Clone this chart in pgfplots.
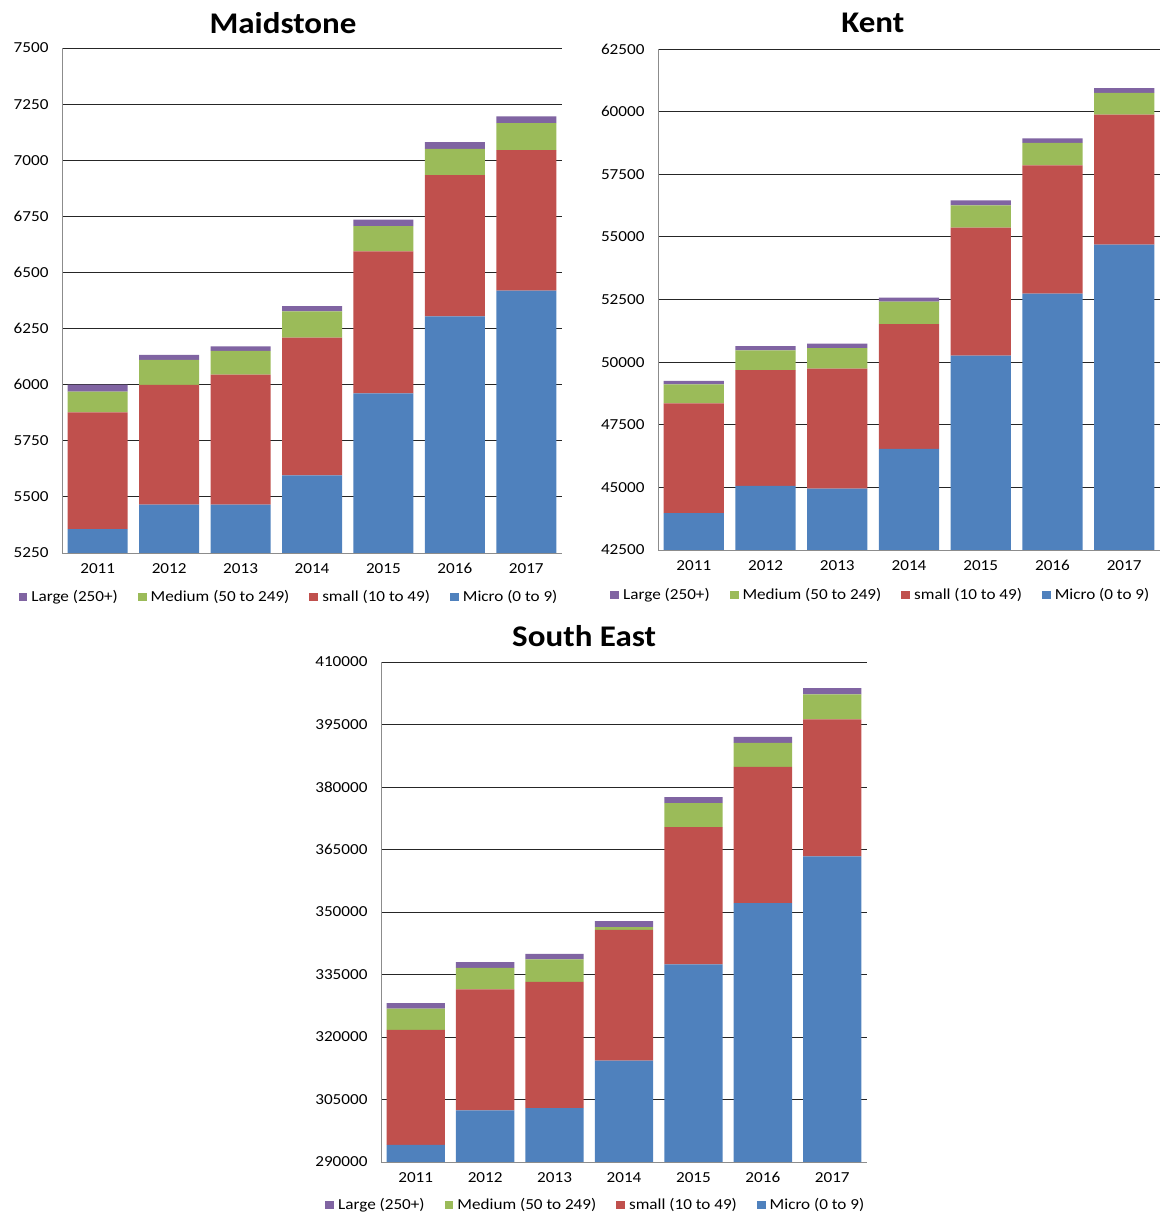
\documentclass[border=0pt]{standalone}
\usepackage{pgfplots}
\pgfplotsset{compat=1.18}
\usepackage{pgfplotstable}
\usepackage{fontspec}
\setmainfont{Carlito}[FakeStretch=1.12]
\newfontfamily\titlefont{Carlito}[FakeStretch=1.1]
\definecolor{cmicro}{HTML}{4F81BD}
\definecolor{csmall}{HTML}{C0504D}
\definecolor{cmedium}{HTML}{9BBB59}
\definecolor{clarge}{HTML}{8064A2}
\definecolor{axisgray}{HTML}{8C8C8C}

\pgfplotstableread{
x micro small medium large
0 5356 520 93 31
1 5465 534 111 23
2 5465 580 106 19
3 5596 613 117 24
4 5961 633 112 29
5 6304 630 116 30
6 6419 626 120 30
}\maid

\pgfplotstableread{
x micro small medium large
0 43970 4380 759 142
1 45061 4617 790 174
2 44951 4790 822 174
3 46532 4980 901 158
4 50263 5107 885 205
5 52729 5123 901 174
6 54690 5186 869 190
}\kent

\pgfplotstableread{
x micro small medium large
0 294100 27600 5100 1300
1 302400 29000 5200 1350
2 302900 30350 5350 1350
3 314350 31350 650 1450
4 337450 32900 5750 1450
5 352100 32700 5800 1450
6 363350 32900 6000 1450
}\seast

\pgfplotsset{
  sme/.style={
    scale only axis,
    ybar stacked, bar width=0.84,
    xmin=-0.5, xmax=6.5,
    xtick={0,...,6}, xticklabels={2011,2012,2013,2014,2015,2016,2017},
    axis x line*=bottom, axis y line*=left,
    axis line style={draw=axisgray, line width=0.9pt, -},
    ymajorgrids, grid style={black!85, line width=0.8pt},
    major tick length=0pt,
    tick label style={font=\fontsize{15.3}{17}\selectfont},
    yticklabel style={xshift=-10pt},
    xticklabel style={yshift=-7pt},
    scaled y ticks=false,
    /pgf/number format/.cd, fixed, 1000 sep={}, assume math mode=true, /pgfplots/.cd,
    reverse legend,
    legend columns=4,
    legend style={draw=none, fill=none, anchor=center,
      font=\fontsize{15.3}{17}\selectfont,
      /tikz/every odd column/.append style={column sep=2pt},
      /tikz/every even column/.append style={column sep=18pt}},
    legend image code/.code={\fill[##1] (0pt,-4.3pt) rectangle (8.8pt,4.3pt);},
    title style={font=\titlefont\bfseries\fontsize{30}{33}\selectfont, anchor=center},
  }
}

\begin{document}
\begin{tikzpicture}
\useasboundingbox (0pt,0pt) rectangle (1163pt,1214pt);

% Maidstone
\begin{axis}[sme, at={(62pt,661pt)}, anchor=south west, width=500pt, height=505pt,
  ymin=5250, ymax=7500, ytick={5250,5500,...,7500},
  title={Maidstone}, title style={at={(0.442,1.037)}},
  legend style={at={(0.454,-0.087)}}]
\addplot[fill=cmicro, draw=none] table[x=x,y=micro]{\maid};
\addplot[fill=csmall, draw=none] table[x=x,y=small]{\maid};
\addplot[fill=cmedium, draw=none] table[x=x,y=medium]{\maid};
\addplot[fill=clarge, draw=none] table[x=x,y=large]{\maid};
\legend{Micro (0 to 9),small (10 to 49),Medium (50 to 249),Large (250+)}
\end{axis}

% Kent
\begin{axis}[sme, at={(658pt,664pt)}, anchor=south west, width=502pt, height=501pt,
  ymin=42500, ymax=62500, ytick={42500,45000,...,62500},
  title={Kent}, title style={at={(0.428,1.04)}},
  legend style={at={(0.444,-0.09)}}]
\addplot[fill=cmicro, draw=none] table[x=x,y=micro]{\kent};
\addplot[fill=csmall, draw=none] table[x=x,y=small]{\kent};
\addplot[fill=cmedium, draw=none] table[x=x,y=medium]{\kent};
\addplot[fill=clarge, draw=none] table[x=x,y=large]{\kent};
\legend{Micro (0 to 9),small (10 to 49),Medium (50 to 249),Large (250+)}
\end{axis}

% South East
\begin{axis}[sme, at={(381pt,52pt)}, anchor=south west, width=486pt, height=500pt,
  ymin=290000, ymax=410000, ytick={290000,305000,...,410000},
  title={South East}, title style={at={(0.418,1.04)}},
  legend style={at={(0.442,-0.086)}}]
\addplot[fill=cmicro, draw=none] table[x=x,y=micro]{\seast};
\addplot[fill=csmall, draw=none] table[x=x,y=small]{\seast};
\addplot[fill=cmedium, draw=none] table[x=x,y=medium]{\seast};
\addplot[fill=clarge, draw=none] table[x=x,y=large]{\seast};
\legend{Micro (0 to 9),small (10 to 49),Medium (50 to 249),Large (250+)}
\end{axis}
\end{tikzpicture}
\end{document}
